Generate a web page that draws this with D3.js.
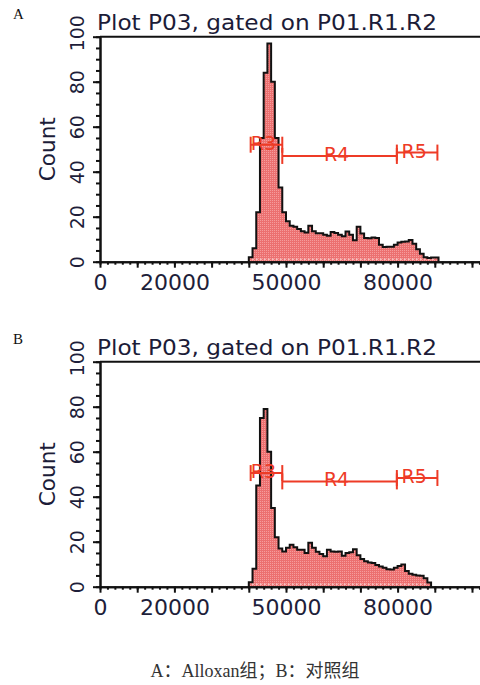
<!DOCTYPE html>
<html>
<head>
<meta charset="utf-8">
<script src="https://cdn.jsdelivr.net/npm/d3@7"></script>
<style>
  html, body { margin: 0; padding: 0; background: #fff; }
  svg { display: block; }
  .tick text { font-family: "DejaVu Sans", Verdana, sans-serif; fill: #1e1e3a; }
</style>
</head>
<body>
<svg id="chart"></svg>
<script>
const width = 480;
const height = 685;

// histogram bins, 1000 channels wide
const binWidth = 1000;
const binStart = 40000;
const countsA = [2, 6, 22, 55, 84, 97, 80, 55, 33, 22,
    18, 16, 15.5, 14.5, 13.5, 13, 16, 13.5, 12.7, 12.7,
    12, 11.5, 13.2, 12.8, 12, 11.3, 13.4, 12, 9.5, 15.5,
    12.5, 10.5, 10.4, 10.8, 10.5, 7.5, 6.5, 6.7, 6.7, 7.5,
    8.5, 8.9, 9, 9.6, 8, 5.5, 3.5, 2, 1.6, 1.9, 1.9];
const countsB = [2, 8, 45, 75, 79, 60, 35, 22, 17, 15.7,
    17.3, 18.7, 17.5, 16.4, 16.4, 15, 19.5, 17.3, 15.5, 14.5,
    13.5, 16.4, 15.7, 15.5, 15.7, 13.8, 15, 15.3, 16.7, 14,
    12.3, 11.3, 10.8, 10.5, 9.6, 9, 8.4, 7.8, 7.6, 8.4,
    9.2, 9.9, 7, 5.8, 5.3, 5, 4.9, 3.8, 1.9];

// gates
const gateNames = ["R3", "R4", "R5"];
const gateStarts = [40500, 49000, 79800];
const gateEnds = [49000, 79800, 90700];
const gateLevelsA = [52, 47, 48.5];
const gateLevelsB = [50.5, 46.8, 48.3];

// axes
const xMajorTicks = d3.range(0, 100001, 10000);
const xMinorTicks = d3.range(0, 105001, 2000);
const xLabelTicks = [0, 20000, 50000, 80000];
const yMajorTicks = [0, 20, 40, 60, 80, 100];
const yMinorTicks = d3.range(0, 101, 5);

const panels = [
    {letter: "A", offset: 0, counts: countsA, levels: gateLevelsA},
    {letter: "B", offset: 325, counts: countsB, levels: gateLevelsB}
];

const titleText = "Plot P03, gated on P01.R1.R2";
const captionText = "A：Alloxan组；B：对照组";

const svg = d3.select("#chart")
    .attr("width", width)
    .attr("height", height);

// dotted red fill like the cytometer software
const defs = svg.append("defs");
const pat = defs.append("pattern")
    .attr("id", "dots")
    .attr("width", 2).attr("height", 2)
    .attr("patternUnits", "userSpaceOnUse");
pat.append("rect").attr("width", 2).attr("height", 2).attr("fill", "#ec7070");
pat.append("rect").attr("width", 1).attr("height", 1).attr("fill", "#f59c9c");

const plotLeft = 100;
const plotTop = 36.7;
const plotBottom = 261.7;

const x = d3.scaleLinear().domain([0, 105000]).range([plotLeft, plotLeft + 105000 * 0.00372]);
const y = d3.scaleLinear().domain([0, 100]).range([plotBottom, plotTop]);

panels.forEach(p => {
    const g = svg.append("g").attr("transform", `translate(0, ${p.offset})`);

    // panel letter
    g.append("text")
        .attr("x", 13).attr("y", 18.5)
        .attr("font-family", "Liberation Serif, serif")
        .attr("font-size", 15)
        .attr("fill", "#111")
        .text(p.letter);

    // title
    g.append("text")
        .attr("x", 97).attr("y", 30)
        .attr("font-family", "DejaVu Sans, Verdana, sans-serif")
        .attr("font-size", 21)
        .attr("textLength", 340)
        .attr("lengthAdjust", "spacingAndGlyphs")
        .attr("fill", "#1c1c38")
        .text(titleText);

    // y label
    g.append("text")
        .attr("transform", `translate(55, ${(plotTop + plotBottom) / 2}) rotate(-90)`)
        .attr("text-anchor", "middle")
        .attr("font-family", "DejaVu Sans, Verdana, sans-serif")
        .attr("font-size", 21)
        .attr("textLength", 64)
        .attr("lengthAdjust", "spacingAndGlyphs")
        .attr("fill", "#1c1c38")
        .text("Count");

    // histogram
    const pts = [{v: binStart, c: 0}];
    p.counts.forEach((c, i) => pts.push({v: binStart + i * binWidth, c: c}));
    const binEnd = binStart + p.counts.length * binWidth;
    pts.push({v: binEnd, c: 0});

    const area = d3.area()
        .x(d => x(d.v)).y0(y(0)).y1(d => y(d.c))
        .curve(d3.curveStepAfter);
    const line = d3.line()
        .x(d => x(d.v)).y(d => y(d.c))
        .curve(d3.curveStepAfter);

    g.append("path").datum(pts)
        .attr("d", area)
        .attr("fill", "url(#dots)");
    // faint dotted row near the baseline
    g.append("line")
        .attr("x1", x(binStart) + 3).attr("x2", x(binEnd) - 3)
        .attr("y1", y(0) - 2.5).attr("y2", y(0) - 2.5)
        .attr("stroke", "#fff").attr("stroke-width", 1)
        .attr("stroke-dasharray", "2,2").attr("opacity", 0.8);
    g.append("path").datum(pts)
        .attr("d", line)
        .attr("fill", "none")
        .attr("stroke", "#111")
        .attr("stroke-width", 2);

    // frame top
    g.append("line")
        .attr("x1", plotLeft).attr("x2", x(105000))
        .attr("y1", plotTop).attr("y2", plotTop)
        .attr("stroke", "#111").attr("stroke-width", 2);

    // x axis
    g.append("g")
        .attr("transform", `translate(0, ${plotBottom})`)
        .call(d3.axisBottom(x).tickValues(xMinorTicks).tickSize(3).tickSizeOuter(0).tickFormat(""))
        .call(a => a.selectAll("path, line").attr("stroke", "#111").attr("stroke-width", 2));
    g.append("g")
        .attr("transform", `translate(0, ${plotBottom})`)
        .call(d3.axisBottom(x).tickValues(xMajorTicks).tickSize(6).tickSizeOuter(0)
            .tickFormat(d => xLabelTicks.includes(d) ? d : ""))
        .call(a => {
            a.selectAll("path, line").attr("stroke", "#111").attr("stroke-width", 2);
            a.selectAll("text").attr("y", 13).attr("font-size", 22);
        });

    // y axis
    g.append("g")
        .attr("transform", `translate(${plotLeft}, 0)`)
        .call(d3.axisLeft(y).tickValues(yMinorTicks).tickSize(4).tickSizeOuter(0).tickFormat(""))
        .call(a => a.selectAll("path, line").attr("stroke", "#111").attr("stroke-width", 2));
    g.append("g")
        .attr("transform", `translate(${plotLeft}, 0)`)
        .call(d3.axisLeft(y).tickValues(yMajorTicks).tickSize(7).tickSizeOuter(0))
        .call(a => {
            a.selectAll("path, line").attr("stroke", "#111").attr("stroke-width", 2);
            a.selectAll("text")
                .attr("x", null).attr("dy", null)
                .attr("text-anchor", "middle")
                .attr("font-size", 19)
                .attr("transform", d => `translate(-16, ${d === 100 ? -4 : 0}) rotate(-90)`);
        });

    // gates
    const gate = g.selectAll("g.gate")
        .data(gateNames.map((n, i) => ({name: n, s: gateStarts[i], e: gateEnds[i], lvl: p.levels[i]})))
        .enter().append("g").attr("class", "gate");
    gate.append("line")
        .attr("x1", d => x(d.s)).attr("x2", d => x(d.e))
        .attr("y1", d => y(d.lvl)).attr("y2", d => y(d.lvl));
    gate.append("line")
        .attr("x1", d => x(d.s)).attr("x2", d => x(d.s))
        .attr("y1", d => y(d.lvl) - 8).attr("y2", d => y(d.lvl) + 8);
    gate.append("line")
        .attr("x1", d => x(d.e)).attr("x2", d => x(d.e))
        .attr("y1", d => y(d.lvl) - 8).attr("y2", d => y(d.lvl) + 8);
    gate.selectAll("line")
        .attr("stroke", "#ee3b26").attr("stroke-width", 2);
    gate.append("text")
        .attr("x", d => (x(d.s) + x(d.e)) / 2 - 3)
        .attr("y", d => y(d.lvl) + 5)
        .attr("text-anchor", "middle")
        .attr("font-family", "DejaVu Sans, Verdana, sans-serif")
        .attr("font-size", 19)
        .attr("fill", "#ee3b26")
        .text(d => d.name);
});

// caption
svg.append("text")
    .attr("x", 255).attr("y", 677)
    .attr("text-anchor", "middle")
    .attr("font-family", "Liberation Serif, Noto Sans CJK SC, serif")
    .attr("font-size", 18)
    .attr("fill", "#333")
    .text(captionText);
</script>
</body>
</html>
